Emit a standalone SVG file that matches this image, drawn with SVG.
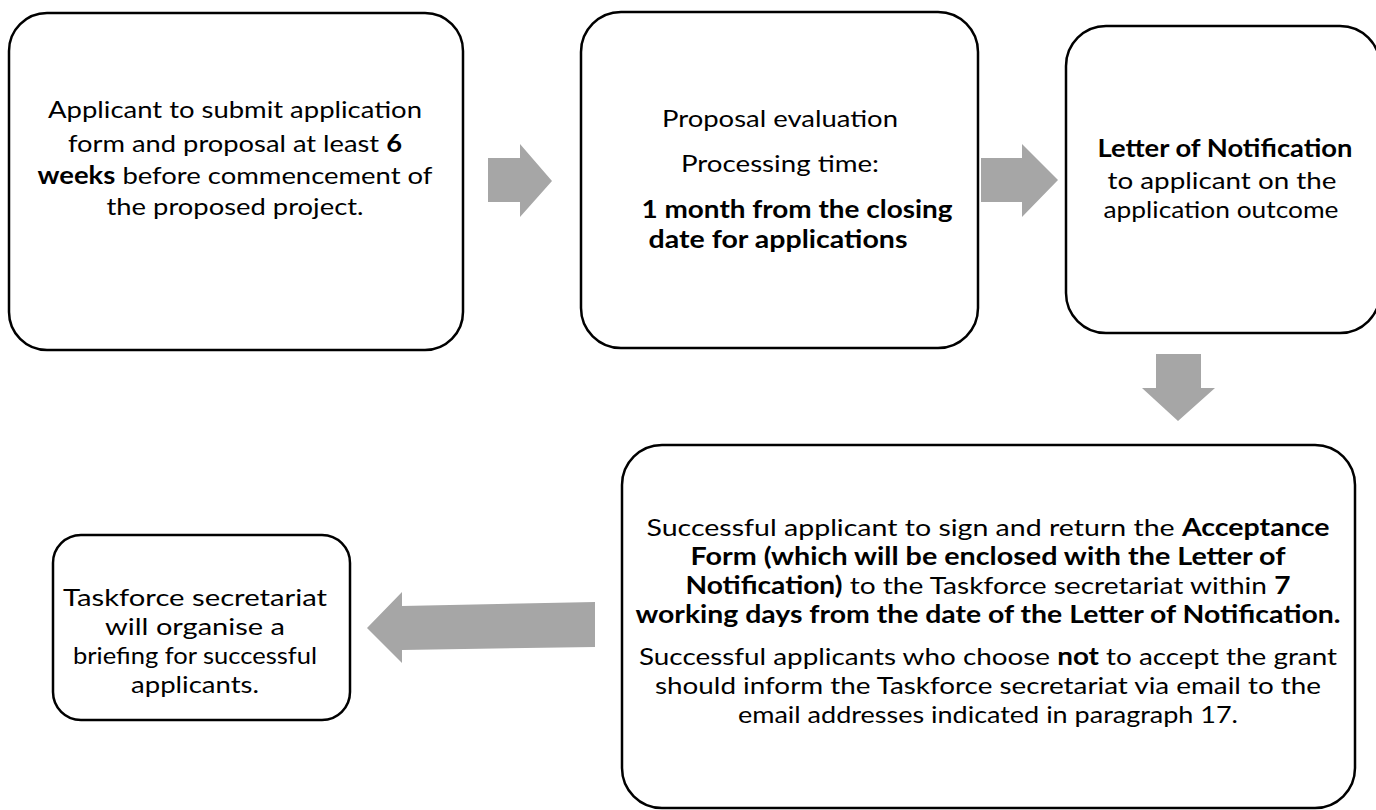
<svg xmlns="http://www.w3.org/2000/svg" width="1376" height="810" viewBox="0 0 1376 810">
<style>
.box{fill:#fff;stroke:#000;stroke-width:2.5}
.arr{fill:#A6A6A6;stroke:none}
text{font-family:Lato,"Open Sans",sans-serif;font-size:24px;fill:#000;text-anchor:middle}
.b{font-weight:bold}
</style>
<rect width="1376" height="810" fill="#fff"/>
<g id="connectors">
<polygon class="arr" points="488,158 520,158 520,144 552,181 520,217 520,202 488,202"/>
<polygon class="arr" points="981,158 1022,158 1022,144 1058,180 1022,217 1022,202 981,202"/>
<polygon class="arr" points="1156,354 1201,354 1201,388 1215,388 1178,421 1142,388 1156,388"/>
<polygon class="arr" points="595,602 595,647 402,650 402,663 367,628 402,592 402,606"/>
</g>
<g id="node1">
<rect class="box" x="9" y="13" width="454" height="337" rx="38"/>
<text x="235" y="118" textLength="374" lengthAdjust="spacingAndGlyphs">Applicant to submit application</text>
<text x="235" y="152" textLength="334" lengthAdjust="spacingAndGlyphs">form and proposal at least <tspan class="b">6</tspan></text>
<text x="235" y="184" textLength="395" lengthAdjust="spacingAndGlyphs"><tspan class="b">weeks</tspan> before commencement of</text>
<text x="235" y="215" textLength="257" lengthAdjust="spacingAndGlyphs">the proposed project.</text>
</g>
<g id="node2">
<rect class="box" x="581" y="12" width="397" height="336" rx="40"/>
<text x="780" y="127" textLength="236" lengthAdjust="spacingAndGlyphs">Proposal evaluation</text>
<text x="780" y="172" textLength="198" lengthAdjust="spacingAndGlyphs">Processing time:</text>
<text class="b" x="797" y="218" textLength="311" lengthAdjust="spacingAndGlyphs">1 month from the closing</text>
<text class="b" x="778" y="248" textLength="259" lengthAdjust="spacingAndGlyphs">date for applications</text>
</g>
<g id="node3">
<rect class="box" x="1066" y="26" width="314" height="307" rx="40"/>
<text class="b" x="1225" y="157" textLength="255" lengthAdjust="spacingAndGlyphs">Letter of Notification</text>
<text x="1222" y="189" textLength="229" lengthAdjust="spacingAndGlyphs">to applicant on the</text>
<text x="1221" y="218" textLength="235" lengthAdjust="spacingAndGlyphs">application outcome</text>
</g>
<g id="node4">
<rect class="box" x="622" y="445" width="733" height="363" rx="40"/>
<text x="988" y="536" textLength="683" lengthAdjust="spacingAndGlyphs">Successful applicant to sign and return the <tspan class="b">Acceptance</tspan></text>
<text class="b" x="988" y="565" textLength="595" lengthAdjust="spacingAndGlyphs">Form (which will  be enclosed with the Letter of</text>
<text x="988" y="594" textLength="605" lengthAdjust="spacingAndGlyphs"><tspan class="b">Notification)</tspan> to the Taskforce secretariat within <tspan class="b">7</tspan></text>
<text class="b" x="988" y="623" textLength="705" lengthAdjust="spacingAndGlyphs">working days from the date of the Letter of Notification.</text>
<text x="988" y="665" textLength="698" lengthAdjust="spacingAndGlyphs">Successful applicants who choose <tspan class="b">not</tspan> to accept the grant</text>
<text x="988" y="694" textLength="666" lengthAdjust="spacingAndGlyphs">should  inform the Taskforce secretariat via email to the</text>
<text x="988" y="723" textLength="500" lengthAdjust="spacingAndGlyphs">email addresses indicated in paragraph 17.</text>
</g>
<g id="node5">
<rect class="box" x="53" y="535" width="297" height="185" rx="28"/>
<text x="195" y="606" textLength="264" lengthAdjust="spacingAndGlyphs">Taskforce secretariat</text>
<text x="195" y="635" textLength="180" lengthAdjust="spacingAndGlyphs">will organise a</text>
<text x="195" y="664" textLength="244" lengthAdjust="spacingAndGlyphs">briefing for successful</text>
<text x="195" y="693" textLength="128" lengthAdjust="spacingAndGlyphs">applicants.</text>
</g>
</svg>
